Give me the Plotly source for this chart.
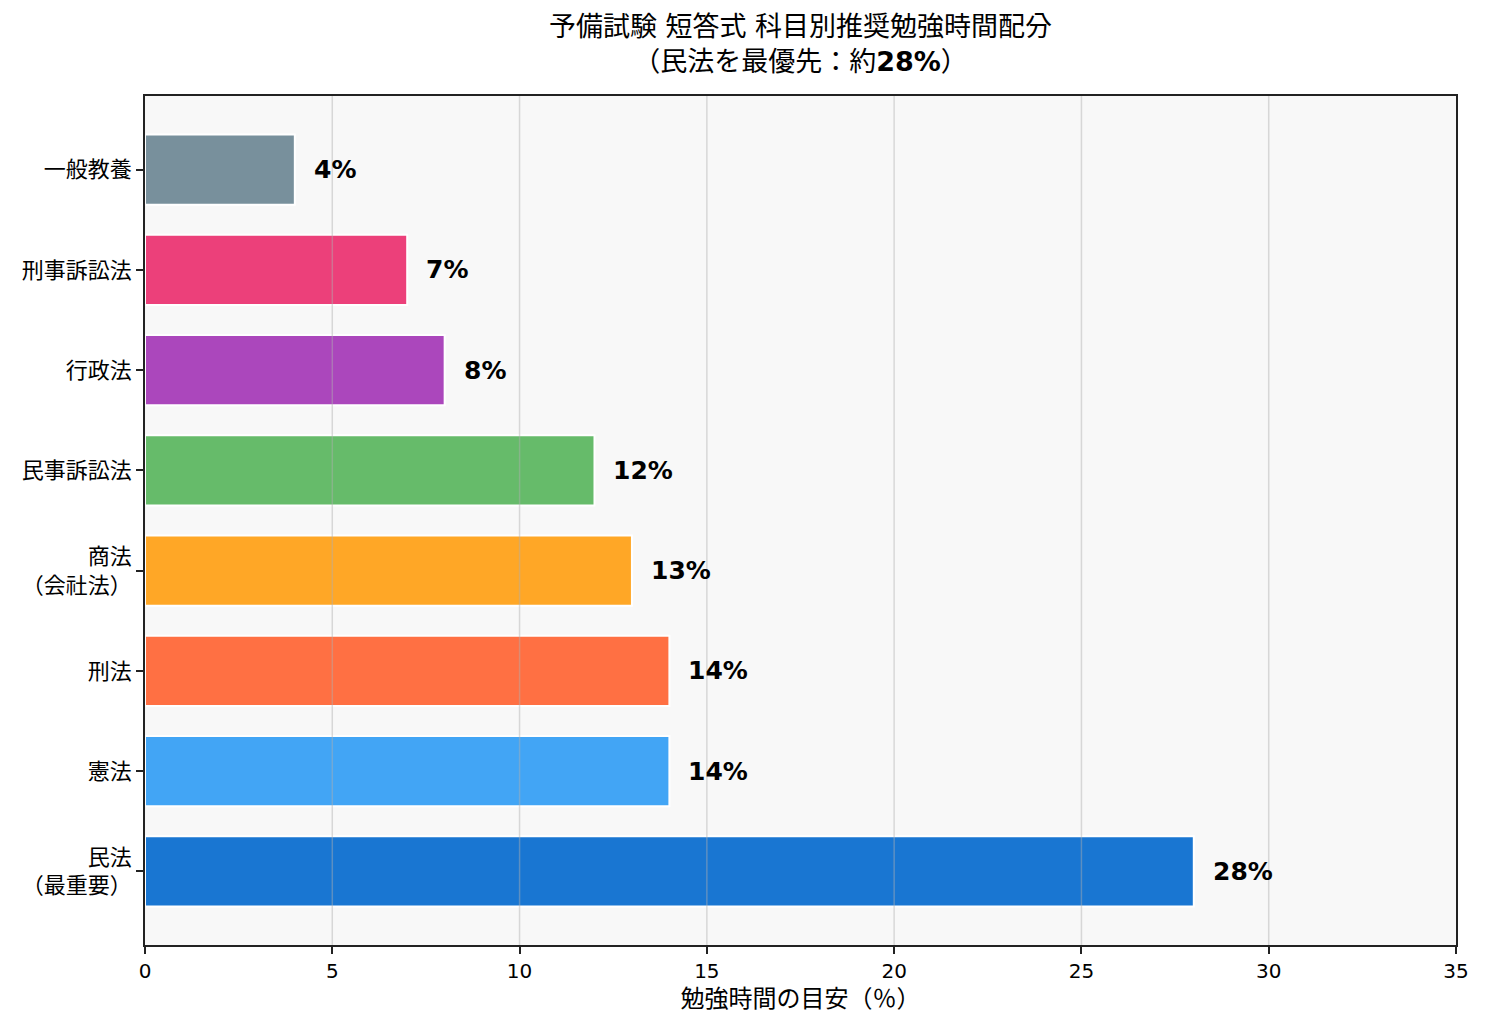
import plotly.graph_objects as go

categories = ["民法<br>（最重要）", "憲法", "刑法", "商法<br>（会社法）", "民事訴訟法", "行政法", "刑事訴訟法", "一般教養"]
values = [28, 14, 14, 13, 12, 8, 7, 4]
colors = ["#1976D2", "#42A5F5", "#FF7043", "#FFA726", "#66BB6A", "#AB47BC", "#EC407A", "#78909C"]
x_ticks = [0, 5, 10, 15, 20, 25, 30, 35]

FONT = "DejaVu Sans, Noto Sans CJK KR, Noto Sans CJK JP, sans-serif"

fig = go.Figure()
fig.add_trace(go.Bar(
    y=list(range(len(categories))),
    x=values,
    orientation="h",
    width=0.7,
    marker=dict(color=colors, line=dict(color="white", width=2)),
    hoverinfo="skip",
))

for i, v in enumerate(values):
    fig.add_annotation(x=v, y=i, text=f"<b>{v}%</b>", showarrow=False,
                       xanchor="left", yanchor="middle", xshift=17,
                       font=dict(family=FONT, size=25, color="black"))

for t in x_ticks[1:-1]:
    fig.add_shape(type="line", xref="x", yref="paper", x0=t, x1=t, y0=0, y1=1,
                  line=dict(color="rgba(176,176,176,0.45)", width=1.5), layer="above")

fig.update_layout(
    width=1485, height=1029,
    margin=dict(l=145, r=29, t=96, b=84),
    paper_bgcolor="white",
    plot_bgcolor="#f8f8f8",
    showlegend=False,
    font=dict(family=FONT, size=21, color="black"),
    title=dict(
        text="予備試験 短答式 科目別推奨勉強時間配分<br>（民法を最優先：約<b>28%</b>）",
        x=(145 + 1456) / 2 / 1485, xanchor="center",
        y=0.965, yanchor="top",
        font=dict(family=FONT, size=27, color="black"),
    ),
    xaxis=dict(
        range=[0, 35], tickvals=x_ticks, ticktext=[str(t) for t in x_ticks],
        showgrid=False, zeroline=False,
        showline=True, linecolor="#222222", linewidth=1.7, mirror=True,
        ticks="outside", ticklen=7, tickwidth=1.7, tickcolor="#222222",
        tickfont=dict(family=FONT, size=20),
        title=dict(text="勉強時間の目安（％）", font=dict(family=FONT, size=24), standoff=8),
    ),
    yaxis=dict(
        range=[-0.735, 7.735], tickvals=list(range(len(categories))), ticktext=categories,
        showgrid=False, zeroline=False,
        showline=True, linecolor="#222222", linewidth=1.7, mirror=True,
        ticks="outside", ticklen=7, tickwidth=1.7, tickcolor="#222222",
        tickfont=dict(family=FONT, size=22),
    ),
)

fig.write_html("out.html")
